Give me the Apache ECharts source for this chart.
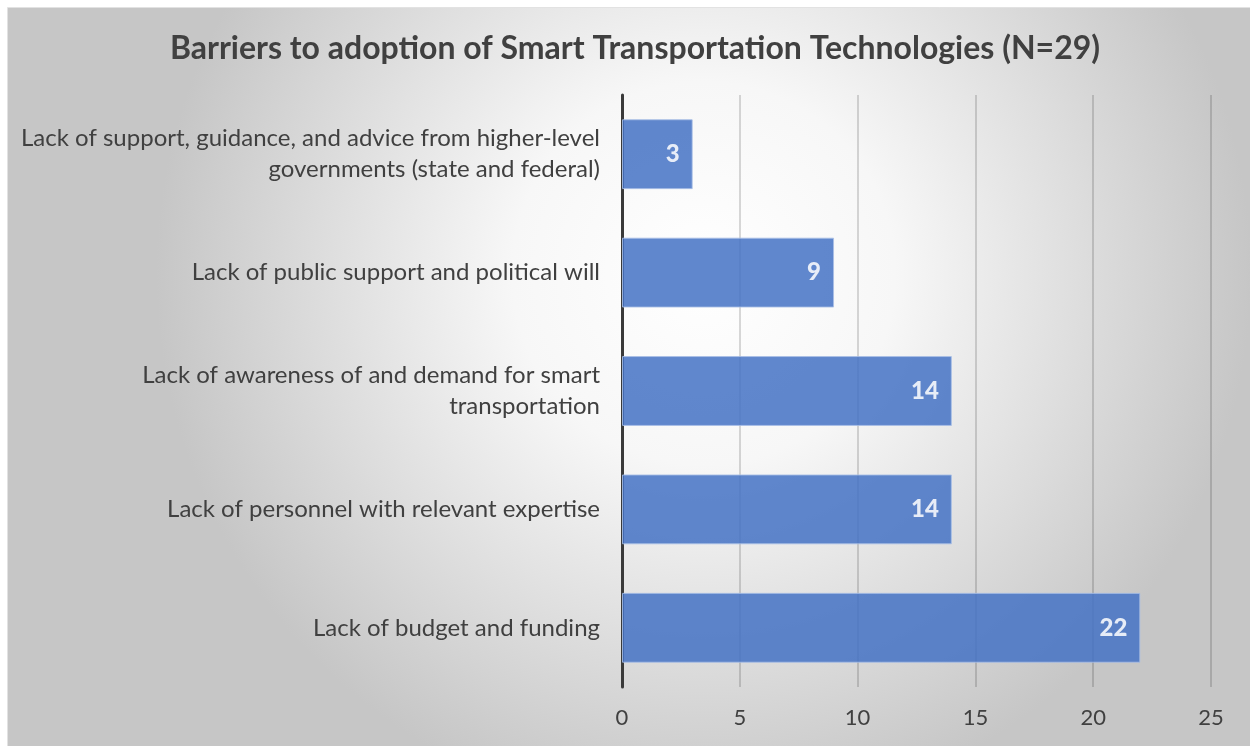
<!DOCTYPE html>
<html>
<head>
<meta charset="utf-8">
<script src="https://cdn.jsdelivr.net/npm/echarts@6/dist/echarts.min.js"></script>
<style>
html,body{margin:0;padding:0;background:#fff;}
#chart{width:1250px;height:746px;}
</style>
</head>
<body>
<div id="chart"></div>
<script>
var titleText = 'Barriers to adoption of Smart Transportation Technologies (N=29)';
var categories = [
  'Lack of support, guidance, and advice from higher-level\ngovernments (state and federal)',
  'Lack of public support and political will',
  'Lack of awareness of and demand for smart\ntransportation',
  'Lack of personnel with relevant expertise',
  'Lack of budget and funding'
];
var values = [3, 9, 14, 14, 22];
var xTicks = [0, 5, 10, 15, 20, 25];

var chart = echarts.init(document.getElementById('chart'));
var FONT = 'Lato, "Open Sans", sans-serif';
chart.setOption({
  backgroundColor: '#ffffff',
  animation: false,
  graphic: [{
    type: 'rect',
    left: 7, top: 7, z: -10, silent: true,
    shape: {width: 1243, height: 739},
    style: {
      fill: {
        type: 'radial', x: 0.56, y: 0.36, r: 0.74,
        colorStops: [
          {offset: 0, color: '#ffffff'},
          {offset: 0.35, color: '#f7f7f7'},
          {offset: 1, color: '#c6c6c6'}
        ]
      },
      stroke: '#e2e2e2', lineWidth: 1
    }
  }],
  title: {
    text: titleText,
    left: 630, textAlign: 'center', top: 28,
    textStyle: {fontFamily: FONT, fontSize: 32, fontWeight: 'bold', color: '#404040'}
  },
  grid: {left: 622, right: 39, top: 95, bottom: 59, containLabel: false},
  xAxis: {
    type: 'value', min: xTicks[0], max: xTicks[xTicks.length - 1], interval: 5,
    axisLine: {show: false}, axisTick: {show: false},
    axisLabel: {fontFamily: FONT, fontSize: 22, color: '#404040', margin: 20},
    splitLine: {show: true, lineStyle: {color: 'rgba(0,0,0,0.2)', width: 1.5}}
  },
  yAxis: {
    type: 'category', data: categories, inverse: true,
    axisLine: {show: true, lineStyle: {color: '#3a3a3a', width: 3}},
    axisTick: {show: false},
    axisLabel: {fontFamily: FONT, fontSize: 24, color: '#404040', margin: 22, align: 'right', lineHeight: 31}
  },
  series: [{
    type: 'bar', data: values, barCategoryGap: '41%',
    itemStyle: {color: '#4472C4', opacity: 0.85, borderColor: '#a9bfe6', borderWidth: 1},
    label: {
      show: true, position: 'insideRight', distance: 13,
      fontFamily: FONT, fontSize: 24, fontWeight: 900, color: '#ffffff'
    }
  }]
});
</script>
</body>
</html>
